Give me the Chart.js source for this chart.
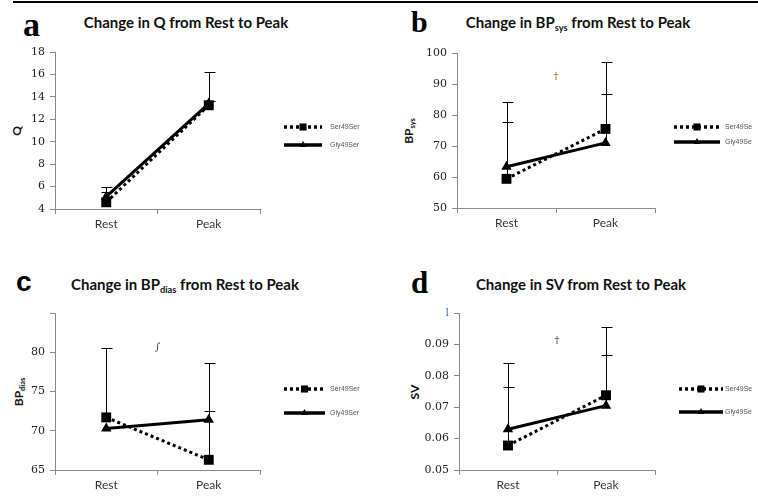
<!DOCTYPE html>
<html>
<head>
<meta charset="utf-8">
<script src="https://cdn.jsdelivr.net/npm/chart.js@4.4.1/dist/chart.umd.min.js"></script>
<style>
body { margin: 0; width: 758px; height: 496px; background: #fff; position: relative; overflow: hidden; font-family: Lato, sans-serif; }
.topline { position: absolute; left: 13px; top: 1px; width: 745px; height: 2px; background: #000; }
canvas { position: absolute; }
.letter { position: absolute; font-weight: bold; color: #000; line-height: 1; }
.title { position: absolute; font: bold 15px Lato, sans-serif; color: #111; white-space: nowrap; transform: translate(-50%, -50%); }
.ytitle { position: absolute; font: bold 12px Lato, sans-serif; color: #111; white-space: nowrap; transform: translate(-50%, -50%) rotate(-90deg); }
sub { font-size: 62%; vertical-align: -0.3em; line-height: 0; }
</style>
</head>
<body>
<div class="topline"></div>

<div class="letter" style="left:23px;top:6px;font:bold 34px 'Liberation Serif',serif;">a</div>
<div class="letter" style="left:411px;top:5px;font:bold 30px 'Liberation Serif',serif;">b</div>
<div class="letter" style="left:16px;top:266px;font:bold 28px 'Liberation Sans',sans-serif;">c</div>
<div class="letter" style="left:411px;top:265px;font:bold 31px 'Liberation Serif',serif;">d</div>

<div class="title" style="left:186px;top:22px;">Change in Q from Rest to Peak</div>
<div class="title" style="left:578px;top:22px;">Change in BP<sub>sys</sub> from Rest to Peak</div>
<div class="title" style="left:185px;top:284px;">Change in BP<sub>dias</sub> from Rest to Peak</div>
<div class="title" style="left:581px;top:284px;">Change in SV from Rest to Peak</div>

<div class="ytitle" style="left:16px;top:131px;">Q</div>
<div class="ytitle" style="left:408px;top:131px;">BP<sub>sys</sub></div>
<div class="ytitle" style="left:18px;top:392px;">BP<sub>dias</sub></div>
<div class="ytitle" style="left:414px;top:392px;">SV</div>

<canvas id="chartA" width="379" height="248" style="left:0;top:0"></canvas>
<canvas id="chartB" width="379" height="248" style="left:379px;top:0"></canvas>
<canvas id="chartC" width="379" height="248" style="left:0;top:248px"></canvas>
<canvas id="chartD" width="379" height="248" style="left:379px;top:248px"></canvas>

<script>
// Categorías y series
const categories = ["Rest", "Peak"];

// a: Q
const qSer = [4.6, 13.25];
const qGly = [5.1, 13.4];
const qSerErr = [5.5, 16.25];   // extremo superior de la barra de error
const qGlyErr = [6.0, 13.6];
const qTicks = { min: 4, max: 18, step: 2 };

// b: BPsys
const sysSer = [59.4, 75.5];
const sysGly = [63.3, 71.0];
const sysSerErr = [77.8, 97.2];
const sysGlyErr = [84.2, 86.9];
const sysTicks = { min: 50, max: 100, step: 10 };

// c: BPdias
const diasSer = [71.7, 66.3];
const diasGly = [70.3, 71.4];
const diasSerErr = [80.6, 72.5];
const diasGlyErr = [null, 78.6];
const diasTicks = { min: 65, max: 85, step: 5 };

// d: SV
const svSer = [0.0578, 0.0738];
const svGly = [0.0630, 0.0705];
const svSerErr = [0.0765, 0.0957];
const svGlyErr = [0.0841, 0.0865];
const svTicks = { min: 0.05, max: 0.1, step: 0.01 };

// Marcas de significancia
const sysNote = { text: "\u2020", value: 92.6, color: "#9a4a1c" };
const diasNote = { text: "\u222B", value: 80.6, color: "#2a3d5c" };
const svNote = { text: "\u2020", value: 0.0914, color: "#333" };

const AXIS_COLOR = "#8a8a8a";

// Configuración de cada panel (posición en la página y área del gráfico)
const panels = {
    chartA: {
        box: { left: 0, top: 0, w: 379, h: 248 },
        area: { l: 55, t: 52, r: 260, b: 209 },
        ser: qSer, gly: qGly, errs: [qSerErr, qGlyErr], ticks: qTicks,
        names: ["Ser49Ser", "Gly49Ser"],
        legend: { x0: 24, x1: 62, tx: 70, y: [75, 93] },
        fmt: (v) => String(v), topLabel: null, note: null
    },
    chartB: {
        box: { left: 379, top: 0, w: 379, h: 248 },
        area: { l: 457, t: 53, r: 655, b: 208 },
        ser: sysSer, gly: sysGly, errs: [sysSerErr, sysGlyErr], ticks: sysTicks,
        names: ["Ser49Se", "Gly49Se"],
        legend: { x0: 19, x1: 65, tx: 70, y: [74, 89] },
        fmt: (v) => String(v), topLabel: null, note: sysNote
    },
    chartC: {
        box: { left: 0, top: 248, w: 379, h: 248 },
        area: { l: 55, t: 313, r: 260, b: 470 },
        ser: diasSer, gly: diasGly, errs: [diasSerErr, diasGlyErr], ticks: diasTicks,
        names: ["Ser49Ser", "Gly49Ser"],
        legend: { x0: 24, x1: 65, tx: 70, y: [76, 100] },
        fmt: (v) => String(v), topLabel: "", note: diasNote
    },
    chartD: {
        box: { left: 379, top: 248, w: 379, h: 248 },
        area: { l: 459, t: 313, r: 655, b: 470 },
        ser: svSer, gly: svGly, errs: [svSerErr, svGlyErr], ticks: svTicks,
        names: ["Ser49Se", "Gly49Se"],
        legend: { x0: 24, x1: 68, tx: 70, y: [76, 99] },
        fmt: (v) => v.toFixed(2), topLabel: "l", note: svNote
    }
};

// Plugin: barras de error, leyenda con línea y marcador, y notas
const extrasPlugin = {
    id: "extras",
    beforeDatasetsDraw(chart) {
        const p = panels[chart.canvas.id];
        const { ctx, scales: { x, y } } = chart;
        ctx.save();
        ctx.strokeStyle = "#000";
        ctx.lineWidth = 1;
        chart.data.datasets.forEach((ds, i) => {
            p.errs[i].forEach((top, j) => {
                if (top == null) return;
                const px = Math.round(x.getPixelForValue(j)) + 0.5;
                const y0 = y.getPixelForValue(ds.data[j]);
                const y1 = Math.round(y.getPixelForValue(top)) + 0.5;
                ctx.beginPath();
                ctx.moveTo(px, y0);
                ctx.lineTo(px, y1);
                ctx.moveTo(px - 5, y1);
                ctx.lineTo(px + 6, y1);
                ctx.stroke();
            });
        });
        ctx.restore();
    },
    afterDraw(chart) {
        const p = panels[chart.canvas.id];
        const { ctx, chartArea, scales: { x, y } } = chart;
        ctx.save();
        // Leyenda
        chart.data.datasets.forEach((ds, i) => {
            const ly = chartArea.top + p.legend.y[i];
            const x0 = chartArea.right + p.legend.x0;
            const x1 = chartArea.right + p.legend.x1;
            ctx.strokeStyle = "#000";
            ctx.lineWidth = ds.borderWidth + 0.5;
            ctx.setLineDash(ds.borderDash || []);
            ctx.beginPath();
            ctx.moveTo(x0, ly);
            ctx.lineTo(x1, ly);
            ctx.stroke();
            ctx.setLineDash([]);
            ctx.fillStyle = "#000";
            Chart.helpers.drawPoint(ctx, {
                pointStyle: ds.pointStyle, rotation: 0,
                radius: ds.pointStyle === "rect" ? 5 : 4, borderWidth: 0
            }, (x0 + x1) / 2, ly);
            ctx.fillStyle = "#555";
            ctx.font = "7px 'Liberation Sans', sans-serif";
            ctx.textBaseline = "middle";
            ctx.textAlign = "left";
            ctx.fillText(p.names[i], chartArea.right + p.legend.tx, ly);
        });
        // Nota de significancia
        if (p.note) {
            const nx = (x.getPixelForValue(0) + x.getPixelForValue(1)) / 2;
            ctx.fillStyle = p.note.color;
            ctx.font = "10px 'DejaVu Serif', serif";
            ctx.textAlign = "center";
            ctx.textBaseline = "middle";
            ctx.fillText(p.note.text, nx, y.getPixelForValue(p.note.value));
        }
        ctx.restore();
    }
};

function createPanel(id) {
    const p = panels[id];
    const xHeight = 26;
    const ctx = document.getElementById(id).getContext("2d");
    return new Chart(ctx, {
        type: "line",
        data: {
            labels: categories,
            datasets: [
                {
                    label: p.names[0], data: p.ser,
                    borderColor: "#000", borderWidth: 3, borderDash: [3, 3],
                    pointStyle: "rect", pointRadius: 7, pointBackgroundColor: "#000", pointBorderWidth: 0
                },
                {
                    label: p.names[1], data: p.gly,
                    borderColor: "#000", borderWidth: 3,
                    pointStyle: "triangle", pointRadius: 6, pointBackgroundColor: "#000", pointBorderWidth: 0
                }
            ]
        },
        options: {
            responsive: false,
            animation: false,
            devicePixelRatio: 1,
            events: [],
            layout: {
                padding: {
                    left: 0,
                    top: p.area.t - p.box.top,
                    right: p.box.left + p.box.w - p.area.r,
                    bottom: p.box.top + p.box.h - p.area.b - xHeight
                }
            },
            plugins: { legend: { display: false }, tooltip: { enabled: false } },
            scales: {
                x: {
                    type: "category",
                    offset: true,
                    grid: { offset: true, drawOnChartArea: false, tickLength: 5, color: AXIS_COLOR },
                    border: { color: AXIS_COLOR },
                    ticks: { font: { family: "Lato", size: 12 }, color: "#333", padding: 3 },
                    afterFit(scale) { scale.height = xHeight; }
                },
                y: {
                    min: p.ticks.min, max: p.ticks.max,
                    grid: { drawOnChartArea: false, tickLength: 5, color: AXIS_COLOR },
                    border: { color: AXIS_COLOR },
                    ticks: {
                        stepSize: p.ticks.step,
                        font: { family: "DejaVu Serif", size: 11 },
                        color: (c) => (c.index === c.chart.scales.y.ticks.length - 1 && p.topLabel) ? "#4a72b0" : "#222",
                        padding: 5,
                        callback: (v, i, ticks) => (i === ticks.length - 1 && p.topLabel !== null) ? p.topLabel : p.fmt(v)
                    },
                    afterFit(scale) { scale.width = p.area.l - p.box.left; }
                }
            }
        },
        plugins: [extrasPlugin]
    });
}

document.addEventListener("DOMContentLoaded", () => {
    Object.keys(panels).forEach(createPanel);
});
</script>
</body>
</html>
